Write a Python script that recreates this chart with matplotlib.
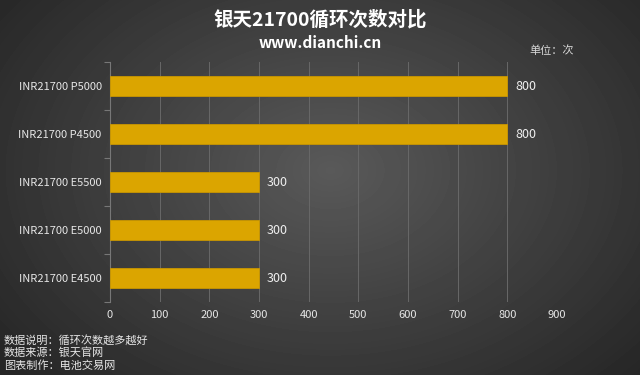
import numpy as np
import matplotlib
matplotlib.use("Agg")
import matplotlib.pyplot as plt

plt.rcParams['font.family'] = ['Noto Sans CJK SC', 'DejaVu Sans']

# data
models = ["INR21700 P5000", "INR21700 P4500", "INR21700 E5500",
          "INR21700 E5000", "INR21700 E4500"]
cycles = [800, 800, 300, 300, 300]
x_ticks = [0, 100, 200, 300, 400, 500, 600, 700, 800, 900]

title = "银天21700循环次数对比"
subtitle = "www.dianchi.cn"
unit = "单位：次"
notes = ["数据说明：循环次数越多越好", "数据来源：银天官网", "图表制作：电池交易网"]

W, H = 640, 375
fig = plt.figure(figsize=(W / 100, H / 100), dpi=100)

# radial gradient background
bg = fig.add_axes([0, 0, 1, 1])
yy, xx = np.mgrid[0:H, 0:W]
r = np.sqrt(((xx - 330) / 420.0) ** 2 + ((yy - 170) / 300.0) ** 2)
shade = np.clip(0.35 - 0.2 * r, 0.15, 0.35)
bg.imshow(shade, cmap="gray", vmin=0, vmax=1, aspect="auto", extent=[0, 1, 0, 1])
bg.axis("off")

# main axes
left, right = 110 / W, 557 / W
top, bottom = 1 - 62 / H, 1 - 302 / H
ax = fig.add_axes([left, bottom, right - left, top - bottom])
ax.patch.set_alpha(0)

ypos = np.arange(len(models))
ax.barh(ypos, cycles, height=0.41, color="#dba500", edgecolor="#c99600",
        linewidth=0.6, zorder=3)
for y, v in zip(ypos, cycles):
    ax.text(v + 16, y, str(v), va="center", ha="left", color="#f0f0f0", fontsize=9)

ax.set_xlim(0, 900)
ax.set_ylim(len(models) - 0.5, -0.5)
ax.set_xticks(x_ticks)
ax.set_xticklabels([str(t) for t in x_ticks], color="#e6e6e6", fontsize=8)
ax.set_yticks(ypos)
ax.set_yticklabels(models, color="#e6e6e6", fontsize=8)
ax.set_yticks(np.arange(len(models) + 1) - 0.5, minor=True)
ax.tick_params(axis="y", which="major", length=0, pad=6)
ax.tick_params(axis="y", which="minor", length=4, color="#777777", width=0.8)
ax.tick_params(axis="x", length=0, pad=6)
ax.grid(axis="x", color="#686868", linewidth=0.7, zorder=0)
for s in ["top", "right", "bottom"]:
    ax.spines[s].set_visible(False)
ax.spines["left"].set_color("#777777")
ax.spines["left"].set_linewidth(0.8)

fig.text(0.5, 1 - 20 / H, title, ha="center", va="center", color="white",
         fontsize=14, fontweight="bold")
fig.text(0.5, 1 - 43 / H, subtitle, ha="center", va="center", color="white",
         fontsize=11, fontweight="bold")
fig.text(552 / W, 1 - 51 / H, unit, ha="center", va="center", color="#d8d8d8",
         fontsize=8)
for i, n in enumerate(notes):
    fig.text(4 / W, 1 - (340 + 13 * i) / H, n, ha="left", va="center",
             color="#e6e6e6", fontsize=8)

fig.savefig("out.png", dpi=100)
